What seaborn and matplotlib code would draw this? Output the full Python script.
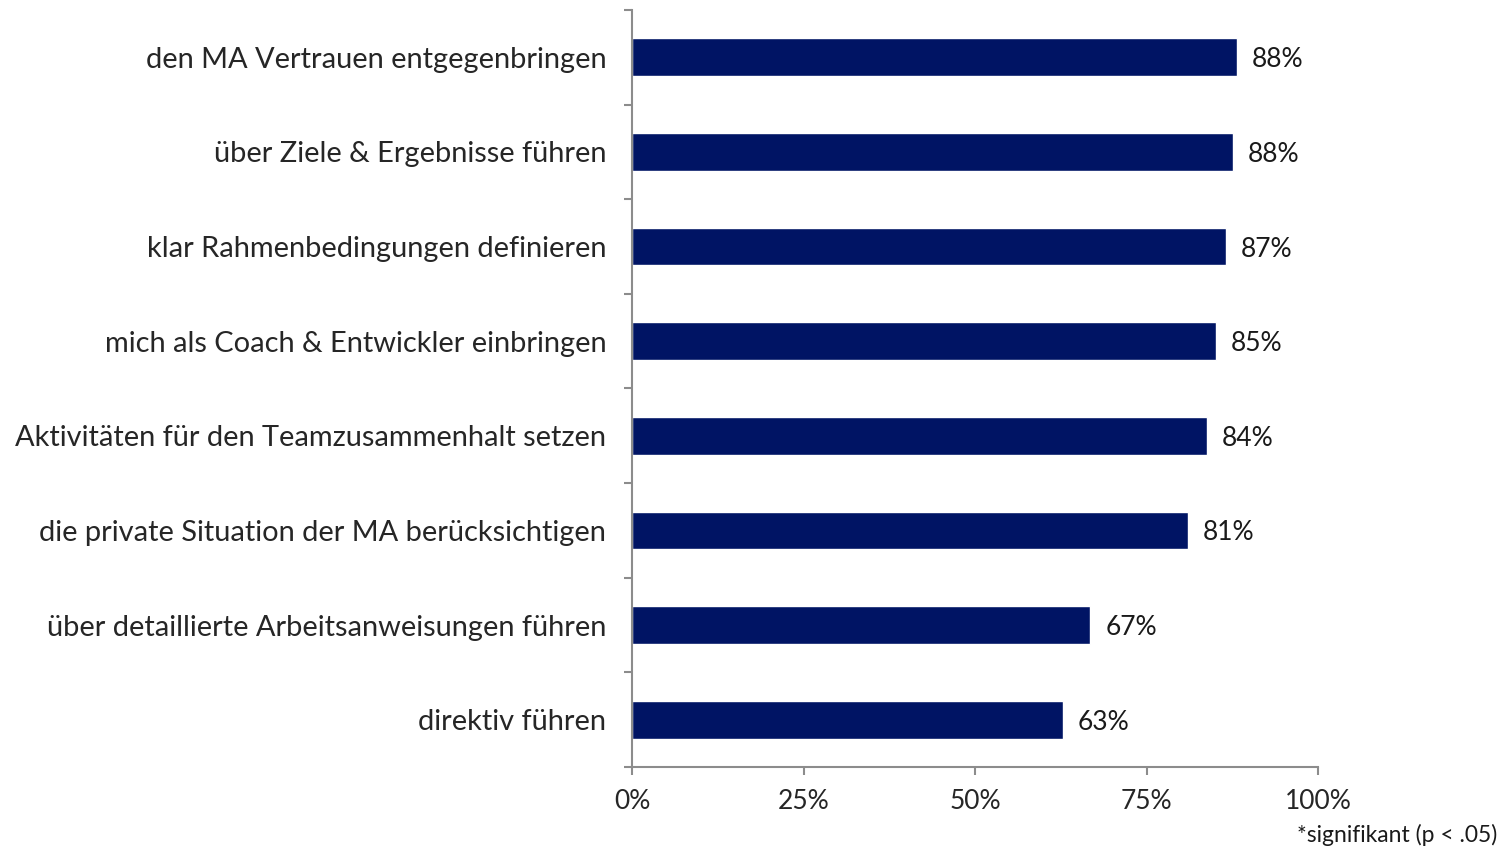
import matplotlib
matplotlib.use("Agg")
import matplotlib.pyplot as plt
import seaborn as sns
import pandas as pd
import numpy as np

categories = [
    "den MA Vertrauen entgegenbringen",
    "über Ziele & Ergebnisse führen",
    "klar Rahmenbedingungen definieren",
    "mich als Coach & Entwickler einbringen",
    "Aktivitäten für den Teamzusammenhalt setzen",
    "die private Situation der MA berücksichtigen",
    "über detaillierte Arbeitsanweisungen führen",
    "direktiv führen",
]
values = [88.2, 87.6, 86.6, 85.1, 83.8, 81.0, 66.8, 62.8]
labels = ["88%", "88%", "87%", "85%", "84%", "81%", "67%", "63%"]
xticks = [0, 25, 50, 75, 100]
xticklabels = ["0%", "25%", "50%", "75%", "100%"]

sns.set_theme(style="white")
plt.rcParams['font.family'] = ['Lato', 'DejaVu Sans']

df = pd.DataFrame({"cat": categories, "val": values})

fig = plt.figure(figsize=(15.11, 8.48), dpi=100)
ax = fig.add_axes([632/1511, 1-767/848, (1318-632)/1511, (767-10)/848])
sns.barplot(data=df, y="cat", x="val", color="#001464", orient="h", width=0.4, ax=ax, saturation=1)

ax.set_xlim(0, 100)
ax.set_ylim(len(categories)-0.5, -0.5)
ax.set_xlabel("")
ax.set_ylabel("")
ax.set_xticks(xticks)
ax.set_xticklabels(xticklabels, fontsize=19)
ax.tick_params(axis="x", which="major", bottom=True, direction="out", length=6, width=1.5, color="#8c8c8c", pad=10)
ax.tick_params(axis="y", which="major", left=True, length=0, pad=18.5, labelsize=20.9)
ax.set_yticks(np.arange(-0.5, len(categories), 1), minor=True)
ax.tick_params(axis="y", which="minor", left=True, direction="out", length=6, width=1.5, color="#8c8c8c")
for s in ["top", "right"]:
    ax.spines[s].set_visible(False)
for s in ["left", "bottom"]:
    ax.spines[s].set_color("#8c8c8c")
    ax.spines[s].set_linewidth(1.5)

for i, (v, lab) in enumerate(zip(values, labels)):
    ax.text(v + 2.2, i, lab, va="center_baseline", ha="left", fontsize=19, color="#1a1a1a")

fig.text(1497/1511, 1-835/848, "*signifikant (p < .05)", ha="right", va="center", fontsize=16.5, color="#1a1a1a")

fig.savefig("out.png", dpi=100, facecolor="white")
